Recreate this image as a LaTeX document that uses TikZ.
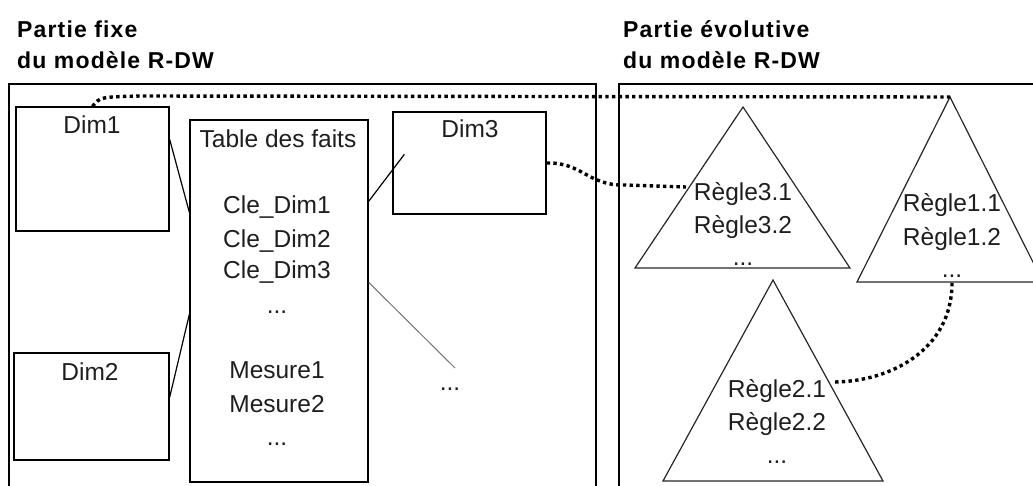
\documentclass[tikz,border=0pt]{standalone}
\usepackage{fontspec}
\setmainfont{Liberation Sans}
\newfontfamily\titlefont[LetterSpace=5]{Liberation Sans}
\usetikzlibrary{calc}
\definecolor{ink}{HTML}{1E1E1E}
\begin{document}
\begin{tikzpicture}[x=1pt,y=-1pt,
  box/.style={draw=black,line width=1.3pt,rectangle,inner sep=0pt},
  lbl/.style={anchor=base,inner sep=0pt,text=ink,font=\fontsize{24.5}{24.5}\selectfont},
  ttl/.style={anchor=base west,inner sep=0pt,text=black,font=\titlefont\bfseries\fontsize{23}{23}\selectfont},
  link/.style={draw=black,line width=1.2pt},
  glink/.style={draw=black!55,line width=1pt},
  dotline/.style={draw=black,line width=3.4pt,dash pattern=on 3.4pt off 3.3pt},
  tri/.style={draw=black!85,line width=1.2pt,line join=miter}]
\useasboundingbox (0,0) rectangle (1033,485);
\clip (0,0) rectangle (1033,485);
% titles
\node[ttl] (tl1) at (17,37) {Partie fixe};
\node[ttl] (tl2) at (17,68) {du modèle R-DW};
\node[ttl] (tr1) at (623,37) {Partie évolutive};
\node[ttl] (tr2) at (623,68) {du modèle R-DW};
% outer boxes
\node[box,minimum width=587pt,minimum height=436pt] (fixe) at (302.5,302) {};
\node[box,minimum width=441pt,minimum height=436pt] (evol) at (839.5,302) {};
% dimension boxes and fact table
\node[box,minimum width=153pt,minimum height=124pt] (dim1) at (92.5,169) {};
\node[box,minimum width=155pt,minimum height=107pt] (dim2) at (91.5,406.5) {};
\node[box,minimum width=153pt,minimum height=102pt] (dim3) at (469.5,163) {};
\node[box,minimum width=178pt,minimum height=362pt] (table) at (279,301) {};
\node[lbl] (dim1t) at (92,133) {Dim1};
\node[lbl] (dim2t) at (90,380) {Dim2};
\node[lbl] (dim3t) at (470,137) {Dim3};
\node[lbl] (tt0) at (278,147) {Table des faits};
\node[lbl] (tt1) at (277,213) {Cle\_Dim1};
\node[lbl] (tt2) at (277,247) {Cle\_Dim2};
\node[lbl] (tt3) at (277,278) {Cle\_Dim3};
\node[lbl] (tt4) at (277,313) {...};
\node[lbl] (tt5) at (277,378) {Mesure1};
\node[lbl] (tt6) at (277,412) {Mesure2};
\node[lbl] (tt7) at (277,445) {...};
\node[lbl] (dotsR) at (450,390) {...};
% triangles
\coordinate (t3a) at (743,107); \coordinate (t3l) at (635,268); \coordinate (t3r) at (850,268);
\coordinate (t1a) at (950,97);  \coordinate (t1l) at (857,282); \coordinate (t1r) at (1043,282);
\coordinate (t2a) at (773,280); \coordinate (t2l) at (663,481); \coordinate (t2r) at (883,481);
\draw[tri] (t3a) -- (t3r) -- (t3l) -- cycle;
\draw[tri] (t1a) -- (t1r) -- (t1l) -- cycle;
\draw[tri] (t2a) -- (t2r) -- (t2l) -- cycle;
\node[lbl] (r31) at (743,200) {Règle3.1};
\node[lbl] (r32) at (743,233) {Règle3.2};
\node[lbl] (r33) at (743,265) {...};
\node[lbl] (r11) at (952,211) {Règle1.1};
\node[lbl] (r12) at (952,245) {Règle1.2};
\node[lbl] (r13) at (952,277) {...};
\node[lbl] (r21) at (777,397) {Règle2.1};
\node[lbl] (r22) at (777,430) {Règle2.2};
\node[lbl] (r23) at (777,463) {...};
% solid connectors
\draw[link] ([yshift=-33pt]dim1.north east) -- ([yshift=-93pt]table.north west);
\draw[link] ([yshift=-45pt]dim2.north east) -- ([yshift=-195pt]table.north west);
\draw[link] ([yshift=-82pt]table.north east) -- ([xshift=12pt,yshift=-43pt]dim3.north west);
\draw[glink] ([yshift=-163pt]table.north east) -- ([xshift=5pt,yshift=22pt]dotsR.base);
% dotted connectors
\coordinate (r3in) at (686,187);
\coordinate (r2in) at (833,382);
\coordinate (r1out) at (952,283);
\draw[dotline] (dim1.north) .. controls (100,97) .. (140,96) -- (t1a);
\draw[dotline] (dim3.east) .. controls (582,162) and (588,186) .. (625,185) -- (r3in);
\draw[dotline] (r1out) .. controls (952,350) and (890,382) .. (r2in);
\end{tikzpicture}
\end{document}
